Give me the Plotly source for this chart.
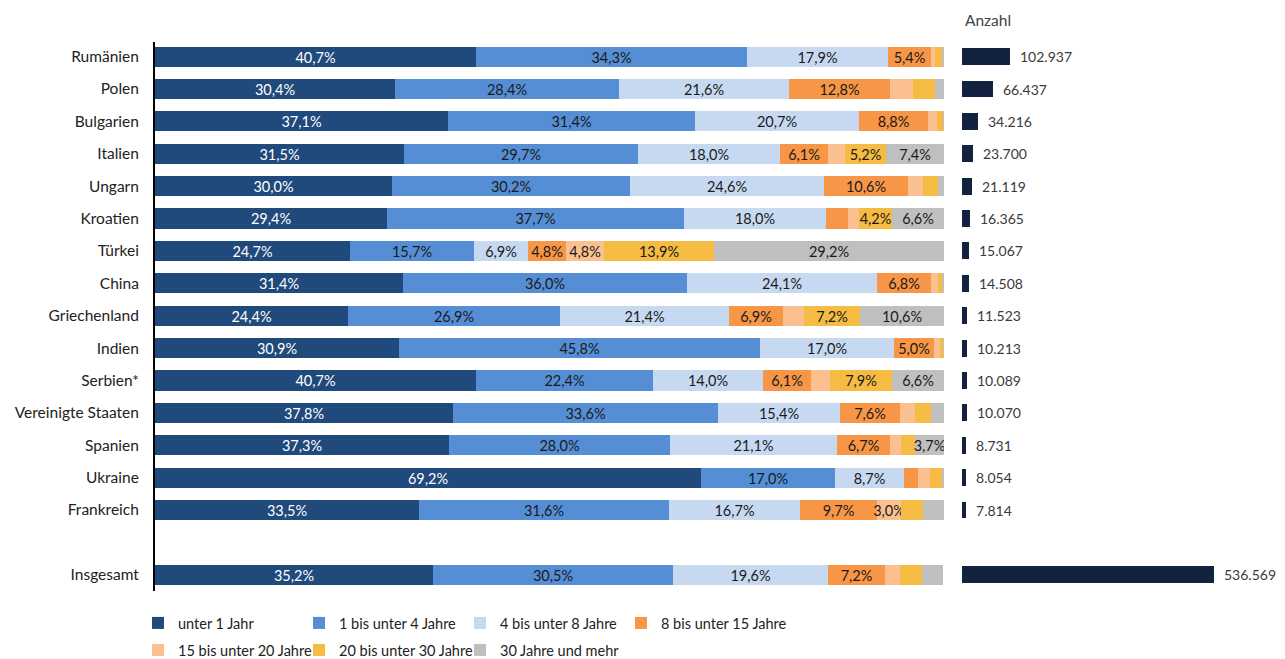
import plotly.graph_objects as go

# Data
countries = ["Rumänien", "Polen", "Bulgarien", "Italien", "Ungarn", "Kroatien", "Türkei",
             "China", "Griechenland", "Indien", "Serbien*", "Vereinigte Staaten", "Spanien",
             "Ukraine", "Frankreich", "Insgesamt"]

age_groups = ["unter 1 Jahr", "1 bis unter 4 Jahre", "4 bis unter 8 Jahre", "8 bis unter 15 Jahre",
              "15 bis unter 20 Jahre", "20 bis unter 30 Jahre", "30 Jahre und mehr"]

unter_1 = [40.7, 30.4, 37.1, 31.5, 30.0, 29.4, 24.7, 31.4, 24.4, 30.9, 40.7, 37.8, 37.3, 69.2, 33.5, 35.2]
j1_4 = [34.3, 28.4, 31.4, 29.7, 30.2, 37.7, 15.7, 36.0, 26.9, 45.8, 22.4, 33.6, 28.0, 17.0, 31.6, 30.5]
j4_8 = [17.9, 21.6, 20.7, 18.0, 24.6, 18.0, 6.9, 24.1, 21.4, 17.0, 14.0, 15.4, 21.1, 8.7, 16.7, 19.6]
j8_15 = [5.4, 12.8, 8.8, 6.1, 10.6, 2.7, 4.8, 6.8, 6.9, 5.0, 6.1, 7.6, 6.7, 1.8, 9.7, 7.2]
j15_20 = [0.5, 2.9, 1.1, 2.1, 1.9, 1.4, 4.8, 1.0, 2.6, 0.8, 2.3, 1.9, 1.5, 1.5, 3.0, 1.9]
j20_30 = [0.9, 2.7, 0.8, 5.2, 1.9, 4.2, 13.9, 0.5, 7.2, 0.4, 7.9, 2.1, 1.7, 1.6, 2.9, 2.8]
j30_plus = [0.3, 1.2, 0.1, 7.4, 0.8, 6.6, 29.2, 0.2, 10.6, 0.1, 6.6, 1.6, 3.7, 0.2, 2.6, 2.7]

anzahl = [102937, 66437, 34216, 23700, 21119, 16365, 15067, 14508, 11523, 10213, 10089,
          10070, 8731, 8054, 7814, 536569]

colors = ["#20497c", "#558ed5", "#c6d9f1", "#f79646", "#fac090", "#f6bb42", "#bfbfbf"]
text_colors = ["white", "#1a1a1a", "#1a1a1a", "#1a1a1a", "#1a1a1a", "#1a1a1a", "#1a1a1a"]

FONT = "Lato, sans-serif"

# blank row between Frankreich and Insgesamt
cat_order = countries[:-1] + [" "] + countries[-1:]

series = [unter_1, j1_4, j4_8, j8_15, j15_20, j20_30, j30_plus]

fig = go.Figure()

for i, vals in enumerate(series):
    labels = [f"{v:.1f}%".replace(".", ",") if v >= 3 else "" for v in vals]
    # last entry of each legend row gets extra room so its text is not clipped
    last_in_row = i in (3, 6)
    fig.add_trace(go.Bar(
        y=countries, x=vals, orientation="h", name=age_groups[i],
        marker=dict(color=colors[i], line=dict(width=0)),
        text=labels, textposition="inside", insidetextanchor="middle", textangle=0,
        constraintext="none",
        insidetextfont=dict(color=text_colors[i], size=14.5, family=FONT),
        width=0.62, legend="legend" if i < 4 else "legend2",
        legendwidth=200 if last_in_row else 116,
        hoverinfo="skip",
    ))

# right hand panel: counts (thin gap between bar and number)
fig.add_trace(go.Bar(
    y=countries, x=anzahl, orientation="h", xaxis="x2", yaxis="y",
    marker=dict(color="#13233f", line=dict(width=0)),
    text=anzahl, texttemplate="\u2002%{x:,}", textposition="outside", cliponaxis=False,
    constraintext="none",
    outsidetextfont=dict(color="#3a3a3a", size=14, family=FONT),
    width=0.52, showlegend=False, hoverinfo="skip",
))

# page has an 8px body margin, so figure coords = picture coords - 8
W, H = 1277, 651
fig.update_layout(
    width=W, height=H,
    barmode="stack", bargap=0,
    separators=",.",
    plot_bgcolor="white", paper_bgcolor="white",
    margin=dict(l=0, r=0, t=0, b=0, autoexpand=False),
    font=dict(family=FONT, size=15, color="#222"),
    xaxis=dict(domain=[147 / W, 936 / W], range=[0, 100], visible=False, fixedrange=True),
    xaxis2=dict(domain=[954 / W, 1.0], range=[0, 536569 * (W - 954) / 252], visible=False,
                anchor="y", fixedrange=True),
    yaxis=dict(domain=[1 - 583 / H, 1 - 34 / H], type="category", categoryorder="array",
               categoryarray=cat_order, range=[16.5, -0.45], showline=True, linecolor="black",
               linewidth=2, showgrid=False, ticks="", ticklabelstandoff=11, automargin=False,
               tickfont=dict(size=15.5, color="#222", family=FONT), fixedrange=True),
    legend=dict(orientation="h", x=130 / W, y=1 - 599 / H, xanchor="left", yanchor="top",
                font=dict(size=14.5, color="#222", family=FONT),
                itemwidth=30, traceorder="normal"),
    legend2=dict(orientation="h", x=130 / W, y=1 - 626 / H, xanchor="left", yanchor="top",
                 font=dict(size=14.5, color="#222", family=FONT), itemwidth=30,
                 traceorder="normal"),
    annotations=[dict(text="Anzahl", x=955 / W, y=1 - 12 / H, xref="paper", yref="paper",
                      xanchor="left", yanchor="middle", showarrow=False,
                      font=dict(size=15.5, color="#444", family=FONT))],
)

fig.write_html("out.html")
